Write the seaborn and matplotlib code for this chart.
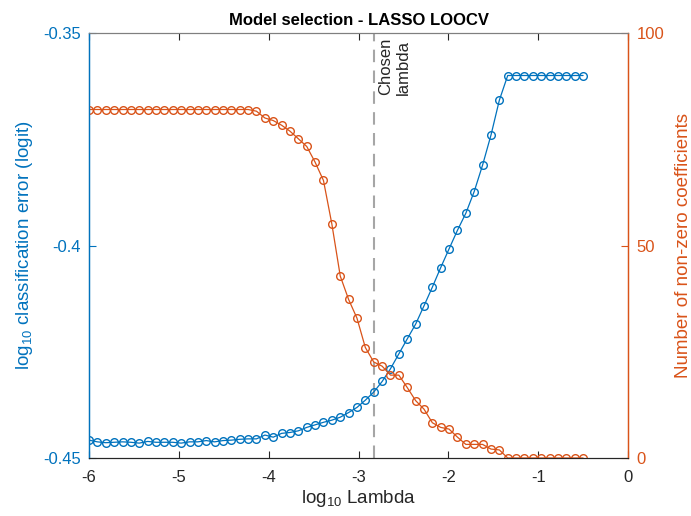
import numpy as np
import pandas as pd
import matplotlib
matplotlib.use("Agg")
import matplotlib.pyplot as plt
import seaborn as sns

# ---- data ----
log_lambda = [-6.000, -5.907, -5.814, -5.720, -5.627, -5.534, -5.441, -5.347, -5.254, -5.161,
              -5.068, -4.975, -4.881, -4.788, -4.695, -4.602, -4.508, -4.415, -4.322, -4.229,
              -4.136, -4.042, -3.949, -3.856, -3.763, -3.669, -3.576, -3.483, -3.390, -3.297,
              -3.203, -3.110, -3.017, -2.924, -2.831, -2.737, -2.644, -2.551, -2.458, -2.364,
              -2.271, -2.178, -2.085, -1.992, -1.898, -1.805, -1.712, -1.619, -1.525, -1.432,
              -1.339, -1.246, -1.153, -1.059, -0.966, -0.873, -0.780, -0.686, -0.593, -0.500]

log_error = [-0.4458, -0.4462, -0.4464, -0.4463, -0.4462, -0.4463, -0.4465, -0.4461, -0.4463, -0.4463,
             -0.4463, -0.4465, -0.4462, -0.4462, -0.4459, -0.4462, -0.4459, -0.4458, -0.4456, -0.4455,
             -0.4455, -0.4446, -0.4451, -0.4442, -0.4440, -0.4436, -0.4428, -0.4422, -0.4416, -0.4411,
             -0.4404, -0.4393, -0.4381, -0.4364, -0.4345, -0.4320, -0.4290, -0.4255, -0.4220, -0.4185,
             -0.4142, -0.4098, -0.4052, -0.4008, -0.3964, -0.3924, -0.3873, -0.3811, -0.3740, -0.3658,
             -0.3600, -0.3600, -0.3600, -0.3600, -0.3600, -0.3600, -0.3600, -0.3600, -0.3600, -0.3600]

nonzero_coefs = [82, 82, 82, 82, 82, 82, 82, 82, 82, 82,
                 82, 82, 82, 82, 82, 82, 82, 82, 82, 82,
                 81.6, 80.0, 79.4, 78.3, 76.9, 75.1, 73.3, 69.6, 65.3, 55.1,
                 42.8, 37.3, 32.9, 26.0, 22.6, 21.6, 19.5, 19.5, 16.6, 13.5,
                 11.5, 8.3, 7.2, 6.8, 4.9, 3.2, 3.2, 3.2, 2.1, 1.9,
                 0, 0, 0, 0, 0, 0, 0, 0, 0, 0]

chosen_log_lambda = -2.831

x_ticks = [-6, -5, -4, -3, -2, -1, 0]
left_ticks = [-0.45, -0.4, -0.35]
left_tick_labels = ["-0.45", "-0.4", "-0.35"]
right_ticks = [0, 50, 100]

df = pd.DataFrame({"log_lambda": log_lambda, "log_error": log_error, "nonzero": nonzero_coefs})

# ---- style ----
sns.set_theme(style="white")
plt.rcParams["font.family"] = ["Liberation Sans", "DejaVu Sans"]
plt.rcParams["mathtext.fontset"] = "custom"
plt.rcParams["mathtext.rm"] = "Liberation Sans"
plt.rcParams["mathtext.it"] = "Liberation Sans:italic"
plt.rcParams["mathtext.bf"] = "Liberation Sans:bold"
plt.rcParams["axes.unicode_minus"] = False

BLUE = "#0072BD"
ORANGE = "#D95319"
DARK = "#262626"

fig = plt.figure(figsize=(6.91, 5.16), dpi=100)
ax = fig.add_axes([89 / 691, 1 - 458 / 516, (628 - 89) / 691, (458 - 33) / 516])
ax2 = ax.twinx()

sns.lineplot(data=df, x="log_lambda", y="log_error", ax=ax, color=BLUE, linewidth=0.9,
             marker="o", markersize=5.5, markerfacecolor="none", markeredgecolor=BLUE,
             markeredgewidth=1.0)
sns.lineplot(data=df, x="log_lambda", y="nonzero", ax=ax2, color=ORANGE, linewidth=0.9,
             marker="o", markersize=5.5, markerfacecolor="none", markeredgecolor=ORANGE,
             markeredgewidth=1.0)

ax.axvline(chosen_log_lambda, color="#A6A6A6", linestyle=(0, (6, 4)), linewidth=1.5, zorder=1)
ax.text(chosen_log_lambda + 0.055, -0.3512, "Chosen\nlambda", rotation=90, ha="left", va="top",
        multialignment="left", fontsize=12, color=DARK)

ax.set_xlim(-6, 0)
ax.set_ylim(-0.45, -0.35)
ax2.set_ylim(0, 100)

ax.set_xticks(x_ticks)
ax.set_xticklabels([str(t) for t in x_ticks])
ax.set_yticks(left_ticks)
ax.set_yticklabels(left_tick_labels)
ax2.set_yticks(right_ticks)
ax2.set_yticklabels([str(t) for t in right_ticks])

ax.tick_params(axis="x", direction="in", length=5, width=0.8, colors=DARK, labelsize=12,
               top=True, bottom=True, pad=9)
ax.tick_params(axis="y", direction="in", length=5, width=0.8, colors=BLUE, labelsize=12, pad=6)
ax2.tick_params(axis="y", direction="in", length=5, width=0.8, colors=ORANGE, labelsize=12, pad=6)

for a in (ax, ax2):
    a.spines["top"].set_color("#7F7F7F")
    a.spines["bottom"].set_color(DARK)
    a.spines["top"].set_linewidth(0.8)
    a.spines["bottom"].set_linewidth(0.8)
    a.spines["left"].set_color(BLUE)
    a.spines["right"].set_color(ORANGE)
    a.spines["left"].set_linewidth(0.9)
    a.spines["right"].set_linewidth(0.9)
    a.grid(False)

ax.set_xlabel("log$_{10}$ Lambda", fontsize=13.5, color=DARK, labelpad=2)
ax.set_ylabel("log$_{10}$ classification error (logit)", fontsize=13.5, color=BLUE, labelpad=6)
ax2.set_ylabel("Number of non-zero coefficients", fontsize=13.5, color=ORANGE, labelpad=8)
ax.set_title("Model selection - LASSO LOOCV", fontsize=12, fontweight="bold", color="black", pad=6)

fig.savefig("out.png", dpi=100)
